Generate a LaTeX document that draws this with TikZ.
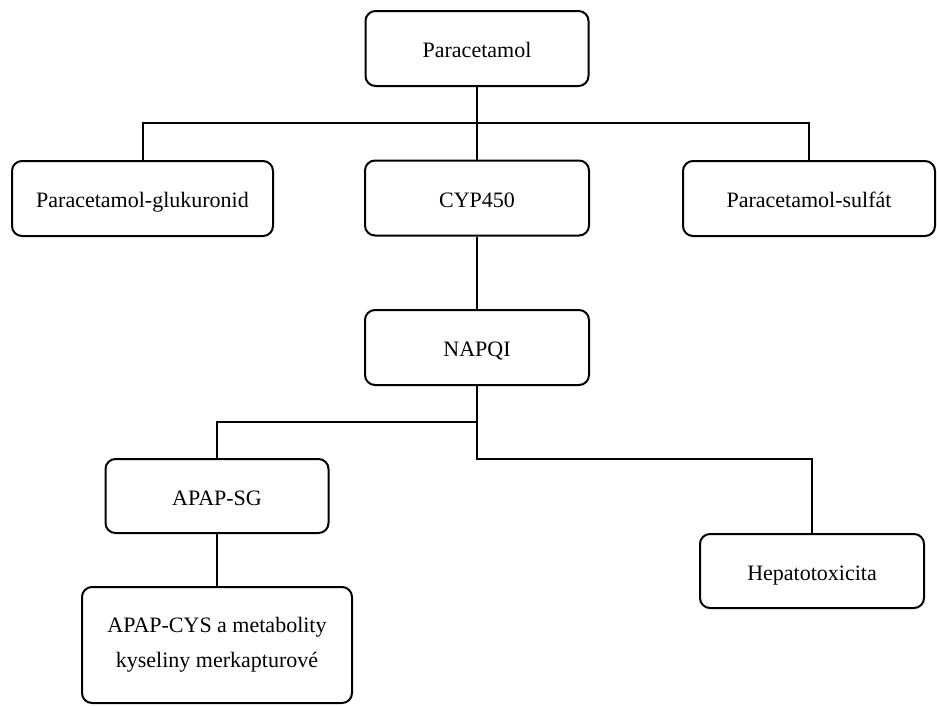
\documentclass[tikz,border=0pt]{standalone}
\usepackage{fontspec}
\setmainfont{Liberation Serif}
\begin{document}
\begin{tikzpicture}[x=1pt,y=-1pt,
  box/.style={draw=black,line width=2pt,rounded corners=10pt,inner sep=0pt,
    font=\fontsize{22}{35}\selectfont,align=center},
  onel/.style={text height=20pt,text depth=2pt},
  conn/.style={draw=black,line width=2pt}]
\useasboundingbox (0,0) rectangle (937,705);
\node[box,onel,minimum width=223pt,minimum height=75pt] (para) at (477,48.5) {Paracetamol};
\node[box,onel,minimum width=261pt,minimum height=75pt] (glu) at (142.5,198.5) {Paracetamol-glukuronid};
\node[box,onel,minimum width=224pt,minimum height=75pt] (cyp) at (477,198) {CYP450};
\node[box,onel,minimum width=252pt,minimum height=75pt] (sul) at (809,198.5) {Paracetamol-sulfát};
\node[box,onel,minimum width=224pt,minimum height=75pt] (nap) at (477,347.5) {NAPQI};
\node[box,onel,minimum width=223pt,minimum height=74pt] (apsg) at (217,496) {APAP-SG};
\node[box,onel,minimum width=224pt,minimum height=74pt] (hep) at (812,571) {Hepatotoxicita};
\node[box,minimum width=270pt,minimum height=116pt] (cys) at (217,645) {APAP-CYS a metabolity\\kyseliny merkapturové};
\coordinate (j1) at (477,123);
\coordinate (j2) at (477,459);
\coordinate (j3) at (477,422);
\draw[conn] (para.south) -- (cyp.north);
\draw[conn] (glu.north) |- (j1) -| (sul.north);
\draw[conn] (cyp.south) -- (nap.north);
\draw[conn] (nap.south) -- (j2) -| (hep.north);
\draw[conn] (j3) -| (apsg.north);
\draw[conn] (apsg.south) -- (cys.north);
\end{tikzpicture}
\end{document}
